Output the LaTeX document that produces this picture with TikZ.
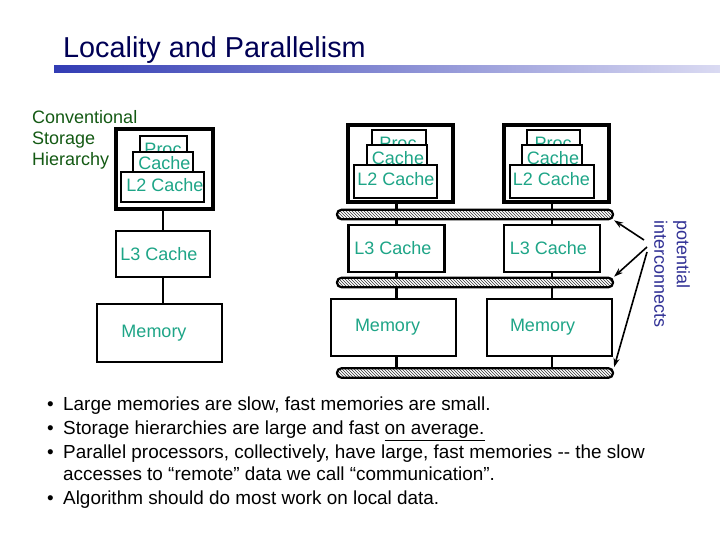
\documentclass[tikz,border=0pt]{standalone}
\usepackage{fontspec}
\setmainfont{Liberation Sans}
\usetikzlibrary{patterns,arrows.meta,calc}
\definecolor{tealtxt}{RGB}{30,165,135}
\definecolor{convgreen}{RGB}{20,90,20}
\definecolor{titlenavy}{RGB}{0,0,85}
\definecolor{lblblue}{RGB}{50,50,150}
\definecolor{gradL}{RGB}{50,60,180}
\definecolor{gradR}{RGB}{218,218,242}
\begin{document}
\begin{tikzpicture}[x=1pt,y=-1pt,
  outerbox/.style={draw, line width=4pt, fill=white, inner sep=0pt},
  box/.style={draw, line width=2.2pt, fill=white, inner sep=0pt},
  lbl/.style={text=tealtxt, font=\fontsize{18}{21}\selectfont, inner sep=0pt},
  conv/.style={text=convgreen, font=\fontsize{18}{21}\selectfont, inner sep=0pt, anchor=base west},
  busbar/.style={draw, line width=2.2pt, rounded corners=4.5pt, pattern=north west lines, pattern color=black!80, minimum width=276pt, minimum height=9.5pt, inner sep=0pt},
  link/.style={line width=2.2pt},
  ptr/.style={line width=1.6pt, -{Stealth[length=9pt,width=6pt]}},
  bul/.style={anchor=base west, inner sep=0pt, font=\fontsize{18.9}{24}\selectfont},
  ]
\fill[white] (0,0) rectangle (720,540);
\useasboundingbox (0,0) rectangle (720,540);

% title
\node[anchor=base west, inner sep=0pt, text=titlenavy, font=\fontsize{28.8}{30}\selectfont] (title) at (63,58) {Locality and Parallelism};
\shade[left color=gradL, right color=gradR] (54,66) rectangle (720,72.5);

% left label
\node[conv] (conv1) at (32,124) {Conventional};
\node[conv] (conv2) at (32,145) {Storage};
\node[conv] (conv3) at (32,166) {Hierarchy};

% ---------- left column ----------
\node[outerbox, minimum width=97pt, minimum height=80pt] (o1) at (164.5,169) {};
\node[box, minimum width=47pt, minimum height=16pt] (p1) at (163.5,144) {};
\node[lbl, anchor=base] (tp1) at (163,155.5) {Proc};
\node[box, minimum width=60pt, minimum height=20pt] (c1) at (163,162) {};
\node[lbl, anchor=base] (tc1) at (164.5,170) {Cache};
\node[box, minimum width=83pt, minimum height=30pt] (l21) at (162.5,187) {};
\node[lbl, anchor=base] (tl21) at (165,192) {L2 Cache};
\node[box, minimum width=94pt, minimum height=46pt] (l31) at (163,254) {};
\node[lbl] (tl31) at (159,254) {L3 Cache};
\node[box, minimum width=125pt, minimum height=58pt] (m1) at (159.5,333) {};
\node[lbl] (tm1) at (154,333) {Memory};
\draw[link] (o1.south -| l31.north) -- (l31.north);
\draw[link] (l31.south) -- (m1.north -| l31.south);

% ---------- bars ----------
\node[busbar] (b1) at (475,214.5) {};
\node[busbar] (b2) at (475,282.5) {};
\node[busbar] (b3) at (475,373) {};

% ---------- middle column ----------
\node[outerbox, minimum width=105pt, minimum height=77pt] (o2) at (400.5,163.5) {};
\node[box, minimum width=54pt, minimum height=15pt] (p2) at (399,137.5) {};
\node[lbl, anchor=base] (tp2) at (398,149.5) {Proc};
\node[box, minimum width=60pt, minimum height=20pt] (c2) at (397,155) {};
\node[lbl, anchor=base] (tc2) at (398,165) {Cache};
\node[box, minimum width=83pt, minimum height=33pt] (l22) at (395.5,181.5) {};
\node[lbl, anchor=base] (tl22) at (396,185.5) {L2 Cache};
\node[box, minimum width=96pt, minimum height=47pt] (l32) at (396.5,248.5) {};
\node[lbl] (tl32) at (393,248.5) {L3 Cache};
\node[box, minimum width=125pt, minimum height=57pt] (m2) at (393.5,327.5) {};
\node[lbl] (tm2) at (387.5,327.5) {Memory};

% ---------- right column ----------
\node[outerbox, minimum width=105pt, minimum height=77pt] (o3) at (556.5,163.5) {};
\node[box, minimum width=53pt, minimum height=15pt] (p3) at (553.5,137.5) {};
\node[lbl, anchor=base] (tp3) at (553,149.5) {Proc};
\node[box, minimum width=60pt, minimum height=20pt] (c3) at (552,155) {};
\node[lbl, anchor=base] (tc3) at (553,165) {Cache};
\node[box, minimum width=84pt, minimum height=33pt] (l23) at (552,181.5) {};
\node[lbl, anchor=base] (tl23) at (551.5,185.5) {L2 Cache};
\node[box, minimum width=96pt, minimum height=47pt] (l33) at (552,248.5) {};
\node[lbl] (tl33) at (548.5,248.5) {L3 Cache};
\node[box, minimum width=125pt, minimum height=57pt] (m3) at (549.5,327.5) {};
\node[lbl] (tm3) at (542.5,327.5) {Memory};

% connectors middle & right
\foreach \c in {2,3}{
  \draw[link] (o\c.south -| l3\c.north) -- (b1.north -| l3\c.north);
  \draw[link] (b1.south -| l3\c.north) -- (l3\c.north);
  \draw[link] (l3\c.south) -- (b2.north -| l3\c.south);
  \draw[link] (b2.south -| l3\c.south) -- (m\c.north -| l3\c.south);
  \draw[link] (m\c.south -| l3\c.south) -- (b3.north -| l3\c.south);
}

% interconnect label and pointers
\node[rotate=-90, anchor=north west, align=left, text=lblblue, font=\fontsize{18}{22.5}\selectfont, inner sep=0pt] (pi) at (690,220) {potential\\interconnects};
\coordinate (s1) at (644,240);
\coordinate (s2) at (647,247);
\coordinate (s3) at (647,252);
\draw[ptr] (s1) -- (b1.south east);
\draw[ptr] (s2) -- (b2.north east);
\draw[ptr] (s3) -- (b3.north east);

% bullets
\node[bul] (i1) at (47,410) {\makebox[16pt][l]{•}Large memories are slow, fast memories are small.};
\node[bul] (i2) at (47,434.5) {\makebox[16pt][l]{•}Storage hierarchies are large and fast \underline{on average.}};
\node[bul] (i3) at (47,458.5) {\makebox[16pt][l]{•}Parallel processors, collectively, have large, fast memories -{}- the slow};
\node[bul] (i3b) at (63,480.5) {accesses to “remote” data we call “communication”.};
\node[bul] (i4) at (47,504) {\makebox[16pt][l]{•}Algorithm should do most work on local data.};
\end{tikzpicture}
\end{document}
